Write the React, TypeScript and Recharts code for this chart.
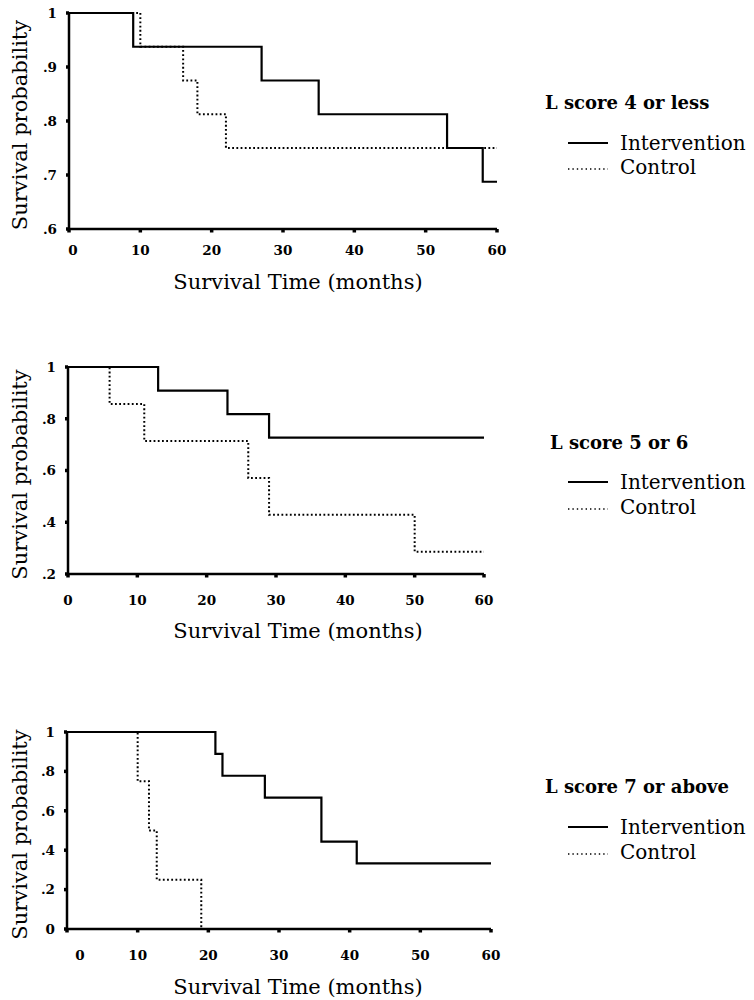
import { Line, LineChart, XAxis, YAxis } from "recharts";

// L score 4 or less
const lowIntTime = [0, 9, 27, 35, 53, 58, 60];
const lowIntSurv = [1, 0.9375, 0.875, 0.8125, 0.75, 0.6875, 0.6875];
const lowCtlTime = [0, 10, 16, 18, 22, 60];
const lowCtlSurv = [1, 0.9375, 0.875, 0.8125, 0.75, 0.75];

// L score 5 or 6
const midIntTime = [0, 13, 23, 29, 60];
const midIntSurv = [1, 0.909, 0.818, 0.727, 0.727];
const midCtlTime = [0, 6, 11, 26, 29, 50, 60];
const midCtlSurv = [1, 0.857, 0.714, 0.571, 0.429, 0.286, 0.286];

// L score 7 or above
const highIntTime = [0, 21, 22, 28, 36, 41, 60];
const highIntSurv = [1, 0.889, 0.778, 0.667, 0.444, 0.333, 0.333];
const highCtlTime = [0, 10, 11.6, 12.7, 19];
const highCtlSurv = [1, 0.75, 0.5, 0.25, 0];

const xTicks = [0, 10, 20, 30, 40, 50, 60];
const lowYTicks = [0.6, 0.7, 0.8, 0.9, 1];
const midYTicks = [0.2, 0.4, 0.6, 0.8, 1];
const highYTicks = [0, 0.2, 0.4, 0.6, 0.8, 1];
const titles = ["L score 4 or less", "L score 5 or 6", "L score 7 or above"];
const seriesNames = ["Intervention", "Control"];

const FONT = "'DejaVu Serif', serif";
const DOTS = "1.8 2.4";
const TICK_SIZE = 13.5;

const toRows = (t: number[], s: number[]) => t.map((v, i) => ({ t: v, s: s[i] }));
const fmtY = (v: number) => (v === 1 ? "1" : v === 0 ? "0" : String(v).replace(/^0/, ""));

const panels = [
  {
    title: titles[0],
    int: toRows(lowIntTime, lowIntSurv),
    ctl: toRows(lowCtlTime, lowCtlSurv),
    yTicks: lowYTicks,
    top: 0,
    height: 300,
    margin: { top: 13, right: 23, bottom: 0, left: 19 },
    zeroShift: 4,
    xTickMargin: 13,
    titleOff: 53,
    legend: { left: 545, title: 103, a: 143, b: 167 },
  },
  {
    title: titles[1],
    int: toRows(midIntTime, midIntSurv),
    ctl: toRows(midCtlTime, midCtlSurv),
    yTicks: midYTicks,
    top: 354,
    height: 291,
    margin: { top: 13, right: 36, bottom: 0, left: 18 },
    zeroShift: 0,
    xTickMargin: 18,
    titleOff: 57,
    legend: { left: 550, title: 443, a: 482, b: 507 },
  },
  {
    title: titles[2],
    int: toRows(highIntTime, highIntSurv),
    ctl: toRows(highCtlTime, highCtlSurv),
    yTicks: highYTicks,
    top: 719,
    height: 281,
    margin: { top: 13, right: 29, bottom: 0, left: 17 },
    zeroShift: 13,
    xTickMargin: 18,
    titleOff: 58,
    legend: { left: 545, title: 787, a: 827, b: 852 },
  },
];

function XTick({ x, y, payload, zeroShift }: any) {
  return (
    <text
      x={x + (payload.value === 0 ? zeroShift : 0)}
      y={y}
      dy="0.71em"
      textAnchor="middle"
      fontFamily={FONT}
      fontSize={TICK_SIZE}
      fontWeight="bold"
      fill="#000"
    >
      {payload.value}
    </text>
  );
}

function Panel({ p }: { p: (typeof panels)[number] }) {
  return (
    <div style={{ position: "absolute", left: 0, top: p.top }}>
      <LineChart width={520} height={p.height} margin={p.margin}>
        <XAxis
          type="number"
          dataKey="t"
          domain={[0, 60]}
          ticks={xTicks}
          height={71}
          stroke="#000"
          axisLine={{ stroke: "#000", strokeWidth: 2.5 }}
          tickLine={{ stroke: "#000", strokeWidth: 3.5 }}
          tickSize={3.5}
          tickMargin={p.xTickMargin}
          tick={<XTick zeroShift={p.zeroShift} />}
          label={{
            content: ({ viewBox }: any) => (
              <text
                x={298}
                y={viewBox.y + p.titleOff}
                dy="0.35em"
                textAnchor="middle"
                fontFamily={FONT}
                fontSize={21}
                fill="#000"
              >
                Survival Time (months)
              </text>
            ),
          }}
        />
        <YAxis
          type="number"
          dataKey="s"
          domain={[p.yTicks[0], 1]}
          ticks={p.yTicks}
          width={50}
          tickFormatter={fmtY}
          axisLine={{ stroke: "#000", strokeWidth: 2.5 }}
          tickLine={{ stroke: "#000", strokeWidth: 3.5 }}
          tickSize={3}
          tickMargin={9}
          tick={{ fontFamily: FONT, fontSize: TICK_SIZE, fontWeight: "bold", fill: "#000" }}
          label={{
            content: ({ viewBox }: any) => {
              const cy = viewBox.y + viewBox.height / 2 + 4;
              return (
                <text
                  x={20}
                  y={cy}
                  dy="0.35em"
                  textAnchor="middle"
                  transform={`rotate(-90 20 ${cy})`}
                  fontFamily={FONT}
                  fontSize={21}
                  fill="#000"
                >
                  Survival probability
                </text>
              );
            },
          }}
        />
        <Line
          data={p.ctl}
          dataKey="s"
          name={seriesNames[1]}
          type="stepAfter"
          stroke="#000"
          strokeWidth={2}
          strokeDasharray={DOTS}
          dot={false}
          isAnimationActive={false}
        />
        <Line
          data={p.int}
          dataKey="s"
          name={seriesNames[0]}
          type="stepAfter"
          stroke="#000"
          strokeWidth={2.2}
          dot={false}
          isAnimationActive={false}
        />
      </LineChart>
    </div>
  );
}

function Legend({ p }: { p: (typeof panels)[number] }) {
  const lg = p.legend;
  const row = (cy: number, name: string, dashed: boolean) => (
    <div style={{ position: "absolute", left: 568, top: cy - 14, height: 28, display: "flex", alignItems: "center" }}>
      <svg width={40} height={10} style={{ display: "block" }}>
        <line
          x1={0}
          y1={dashed ? 7 : 5}
          x2={40}
          y2={dashed ? 7 : 5}
          stroke="#000"
          strokeWidth={dashed ? 1.4 : 1.8}
          strokeDasharray={dashed ? "1.4 3" : undefined}
        />
      </svg>
      <span style={{ marginLeft: 12, fontFamily: FONT, fontSize: 20, color: "#000", whiteSpace: "nowrap" }}>{name}</span>
    </div>
  );
  return (
    <>
      <div
        style={{
          position: "absolute",
          left: lg.left,
          top: lg.title - 14,
          height: 28,
          lineHeight: "28px",
          fontFamily: FONT,
          fontSize: 18,
          fontWeight: "bold",
          color: "#000",
          whiteSpace: "nowrap",
        }}
      >
        {p.title}
      </div>
      {row(lg.a, seriesNames[0], false)}
      {row(lg.b, seriesNames[1], true)}
    </>
  );
}

export default function App() {
  return (
    <div style={{ position: "absolute", left: 0, top: 0, width: 754, height: 1000, background: "#fff", overflow: "hidden" }}>
      {panels.map((p) => (
        <div key={p.title}>
          <Panel p={p} />
          <Legend p={p} />
        </div>
      ))}
    </div>
  );
}
